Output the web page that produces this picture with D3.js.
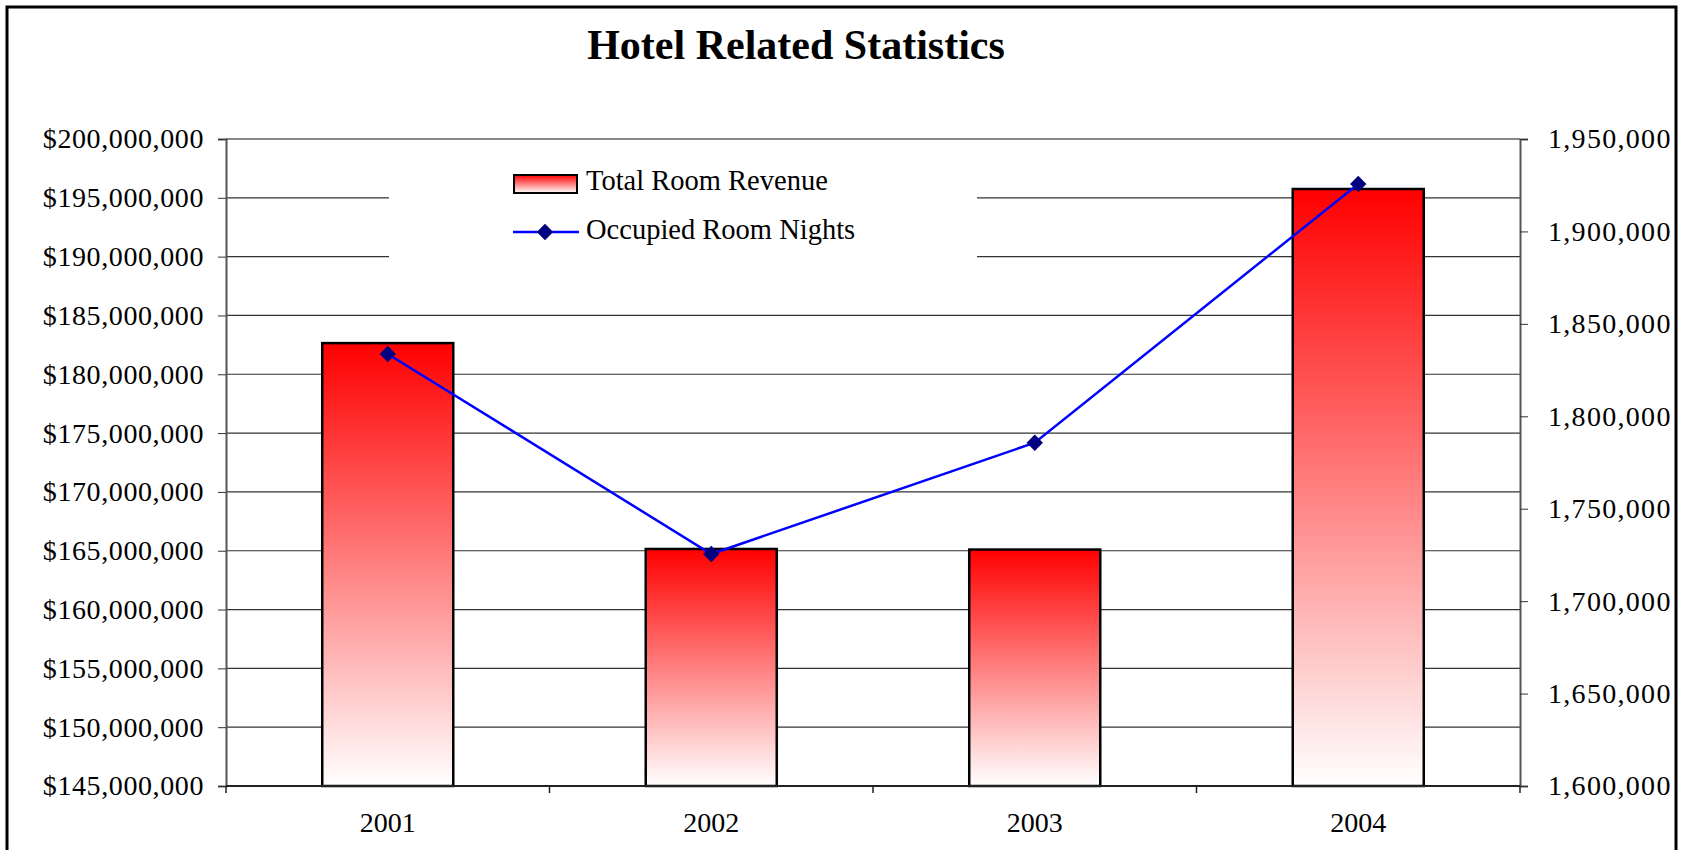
<!DOCTYPE html>
<html>
<head>
<meta charset="utf-8">
<script src="https://cdn.jsdelivr.net/npm/d3@7"></script>
<style>
  body { margin: 0; background: #fff; }
  text { font-family: "Liberation Serif", "Times New Roman", serif; }
</style>
</head>
<body>
<div id="chart"></div>
<script>
// chart data
let years = ["2001", "2002", "2003", "2004"];
let revenue = [182650000, 165150000, 165100000, 195750000];
let roomNights = [1833700, 1725500, 1785700, 1925700];
let revenueTicks = [145e6, 150e6, 155e6, 160e6, 165e6, 170e6, 175e6, 180e6, 185e6, 190e6, 195e6, 200e6];
let nightsTicks = [1600000, 1650000, 1700000, 1750000, 1800000, 1850000, 1900000, 1950000];

let width = 1681;
let height = 850;
let plotLeft = 226, plotRight = 1520, plotTop = 139, plotBottom = 786;

let svg = d3.select("#chart")
    .append("svg")
    .attr("width", width)
    .attr("height", height);

// gradient for the bars
let defs = svg.append("defs");
let grad = defs.append("linearGradient")
    .attr("id", "redfade")
    .attr("x1", 0).attr("y1", 0).attr("x2", 0).attr("y2", 1);
grad.append("stop").attr("offset", "0%").attr("stop-color", "#ff0000");
grad.append("stop").attr("offset", "100%").attr("stop-color", "#ffffff");

// outer frame
svg.append("rect")
    .attr("x", 7).attr("y", 7)
    .attr("width", 1669).attr("height", 860)
    .attr("fill", "none")
    .attr("stroke", "#000")
    .attr("stroke-width", 3);

// title
svg.append("text")
    .attr("x", 796).attr("y", 59)
    .attr("text-anchor", "middle")
    .style("font-size", "42px")
    .style("font-weight", "bold")
    .text("Hotel Related Statistics");

// scales
let x = d3.scaleBand().domain(years).range([plotLeft, plotRight]);
let yL = d3.scaleLinear().domain([145e6, 200e6]).range([plotBottom, plotTop]);
let yR = d3.scaleLinear().domain([1600000, 1950000]).range([plotBottom, plotTop]);

// gridlines
svg.append("g")
    .selectAll("line")
    .data(revenueTicks)
    .enter()
    .append("line")
    .attr("x1", plotLeft).attr("x2", plotRight)
    .attr("y1", d => yL(d)).attr("y2", d => yL(d))
    .attr("stroke", d => d == 200e6 ? "#888" : "#333")
    .attr("stroke-width", d => d == 200e6 ? 2 : 1.2);

// legend background hides the gridlines behind it
svg.append("rect")
    .attr("x", 389).attr("y", 150)
    .attr("width", 588).attr("height", 118)
    .attr("fill", "#fff");

// left axis
let axL = svg.append("g")
    .attr("transform", "translate(" + plotLeft + ",0)")
    .call(d3.axisLeft(yL)
        .tickValues(revenueTicks)
        .tickSize(8)
        .tickPadding(14)
        .tickFormat(d => "$" + d3.format(",")(d)));
axL.select(".domain").attr("stroke", "#555").attr("stroke-width", 2);
axL.selectAll(".tick line").attr("stroke", "#333");
axL.selectAll("text").style("font-size", "28px").style("letter-spacing", "0.6px").attr("fill", "#000");

// right axis
let axR = svg.append("g")
    .attr("transform", "translate(" + plotRight + ",0)")
    .call(d3.axisRight(yR)
        .tickValues(nightsTicks)
        .tickSize(8)
        .tickPadding(20)
        .tickFormat(d3.format(",")));
axR.select(".domain").attr("stroke", "#555").attr("stroke-width", 2);
axR.selectAll(".tick line").attr("stroke", "#333");
axR.selectAll("text").style("font-size", "28px").style("letter-spacing", "1.3px").attr("fill", "#000");

// bars
let barW = x.bandwidth() * 0.405;
svg.selectAll("rect.bar")
    .data(years)
    .enter()
    .append("rect")
    .attr("class", "bar")
    .attr("x", (d) => x(d) + x.bandwidth() / 2 - barW / 2)
    .attr("y", (d, i) => yL(revenue[i]))
    .attr("width", barW)
    .attr("height", (d, i) => plotBottom - yL(revenue[i]))
    .attr("fill", "url(#redfade)")
    .attr("stroke", "#000")
    .attr("stroke-width", 2.5);

// bottom axis line + ticks at category boundaries
svg.append("line")
    .attr("x1", plotLeft).attr("x2", plotRight)
    .attr("y1", plotBottom).attr("y2", plotBottom)
    .attr("stroke", "#222").attr("stroke-width", 2);
let bounds = years.map(d => x(d)).concat([plotRight]);
svg.append("g")
    .selectAll("line")
    .data(bounds)
    .enter()
    .append("line")
    .attr("x1", d => d).attr("x2", d => d)
    .attr("y1", plotBottom).attr("y2", plotBottom + 7)
    .attr("stroke", "#222").attr("stroke-width", 1.5);
svg.append("g")
    .selectAll("text")
    .data(years)
    .enter()
    .append("text")
    .attr("x", d => x(d) + x.bandwidth() / 2)
    .attr("y", 832)
    .attr("text-anchor", "middle")
    .style("font-size", "28px")
    .text(d => d);

// line series
let line = d3.line()
    .x((d, i) => x(years[i]) + x.bandwidth() / 2)
    .y(d => yR(d));
svg.append("path")
    .datum(roomNights)
    .attr("d", line)
    .attr("fill", "none")
    .attr("stroke", "#0000ff")
    .attr("stroke-width", 2.5);

let diamond = d3.symbol().type(d3.symbolDiamond2).size(170);
svg.selectAll("path.mark")
    .data(roomNights)
    .enter()
    .append("path")
    .attr("class", "mark")
    .attr("d", diamond)
    .attr("transform", (d, i) => "translate(" + (x(years[i]) + x.bandwidth() / 2) + "," + yR(d) + ")")
    .attr("fill", "#000080");

// legend
svg.append("rect")
    .attr("x", 514).attr("y", 175)
    .attr("width", 63).attr("height", 18)
    .attr("fill", "url(#redfade)")
    .attr("stroke", "#000")
    .attr("stroke-width", 2);
svg.append("text")
    .attr("x", 586).attr("y", 190)
    .style("font-size", "28.5px")
    .text("Total Room Revenue");
svg.append("line")
    .attr("x1", 513).attr("x2", 579)
    .attr("y1", 232).attr("y2", 232)
    .attr("stroke", "#0000ff").attr("stroke-width", 2.5);
svg.append("path")
    .attr("d", diamond)
    .attr("transform", "translate(545,232)")
    .attr("fill", "#000080");
svg.append("text")
    .attr("x", 586).attr("y", 239)
    .style("font-size", "28.5px")
    .text("Occupied Room Nights");
</script>
</body>
</html>
